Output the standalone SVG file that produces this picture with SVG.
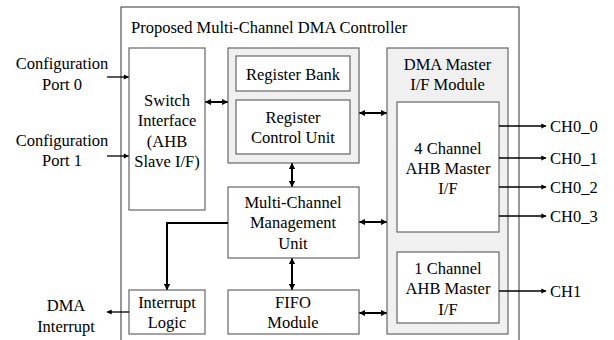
<svg xmlns="http://www.w3.org/2000/svg" width="614" height="340" viewBox="0 0 614 340">
  <defs>
    <marker id="ah" viewBox="0 0 10 10" refX="9" refY="5" markerWidth="3.2" markerHeight="3.2" orient="auto-start-reverse" markerUnits="strokeWidth">
      <path d="M0,0 L10,5 L0,10 z" fill="#000"/>
    </marker>
    <marker id="ahs" viewBox="0 0 10 10" refX="9" refY="5" markerWidth="4.5" markerHeight="4" orient="auto-start-reverse" markerUnits="strokeWidth">
      <path d="M0,0 L10,5 L0,10 z" fill="#000"/>
    </marker>
  </defs>

  <rect width="614" height="340" fill="#fff"/>

  <!-- controller frame -->
  <g id="controller">
    <rect x="121" y="7" width="398" height="340" fill="#fff" stroke="#333" stroke-width="1"/>
    <text x="131" y="32.5" font-family="Liberation Serif" font-size="16.5">Proposed Multi-Channel DMA Controller</text>
  </g>

  <!-- inner blocks: white boxes with grey outline -->
  <g id="switch-interface">
    <rect x="129" y="48" width="76" height="162" fill="#fff" stroke="#666" stroke-width="1.2"/>
    <text x="167" y="105.5" font-family="Liberation Serif" font-size="16.5" text-anchor="middle">Switch</text>
    <text x="167" y="126" font-family="Liberation Serif" font-size="16.5" text-anchor="middle">Interface</text>
    <text x="167" y="146.5" font-family="Liberation Serif" font-size="16.5" text-anchor="middle">(AHB</text>
    <text x="167" y="167" font-family="Liberation Serif" font-size="16.5" text-anchor="middle">Slave I/F)</text>
  </g>

  <g id="register-block">
    <rect x="228" y="48" width="131" height="115" fill="#f0f0f0" stroke="#666" stroke-width="1.2"/>
  </g>
  <g id="register-bank">
    <rect x="236" y="56" width="114" height="35" fill="#fff" stroke="#666" stroke-width="1.2"/>
    <text x="293" y="79.5" font-family="Liberation Serif" font-size="16.5" text-anchor="middle">Register Bank</text>
  </g>
  <g id="register-control">
    <rect x="236" y="100" width="114" height="54" fill="#fff" stroke="#666" stroke-width="1.2"/>
    <text x="293" y="122.5" font-family="Liberation Serif" font-size="16.5" text-anchor="middle">Register</text>
    <text x="293" y="143" font-family="Liberation Serif" font-size="16.5" text-anchor="middle">Control Unit</text>
  </g>

  <g id="management-unit">
    <rect x="228" y="187" width="131" height="71" fill="#fff" stroke="#666" stroke-width="1.2"/>
    <text x="293" y="207.5" font-family="Liberation Serif" font-size="16.5" text-anchor="middle">Multi-Channel</text>
    <text x="293" y="228" font-family="Liberation Serif" font-size="16.5" text-anchor="middle">Management</text>
    <text x="293" y="248.5" font-family="Liberation Serif" font-size="16.5" text-anchor="middle">Unit</text>
  </g>

  <g id="interrupt-logic">
    <rect x="129" y="290" width="76" height="44" fill="#fff" stroke="#666" stroke-width="1.2"/>
    <text x="167" y="307.5" font-family="Liberation Serif" font-size="16.5" text-anchor="middle">Interrupt</text>
    <text x="167" y="328" font-family="Liberation Serif" font-size="16.5" text-anchor="middle">Logic</text>
  </g>

  <g id="fifo">
    <rect x="228" y="290" width="131" height="44" fill="#fff" stroke="#666" stroke-width="1.2"/>
    <text x="293" y="307.5" font-family="Liberation Serif" font-size="16.5" text-anchor="middle">FIFO</text>
    <text x="293" y="328" font-family="Liberation Serif" font-size="16.5" text-anchor="middle">Module</text>
  </g>

  <g id="dma-master">
    <rect x="387" y="48" width="121" height="286" fill="#f0f0f0" stroke="#666" stroke-width="1.2"/>
    <text x="447.5" y="69.5" font-family="Liberation Serif" font-size="16.5" text-anchor="middle">DMA Master</text>
    <text x="447.5" y="89.5" font-family="Liberation Serif" font-size="16.5" text-anchor="middle">I/F Module</text>
  </g>
  <g id="master-4ch">
    <rect x="397" y="102" width="102" height="130" fill="#fff" stroke="#666" stroke-width="1.2"/>
    <text x="448" y="153.5" font-family="Liberation Serif" font-size="16.5" text-anchor="middle">4 Channel</text>
    <text x="448" y="173.5" font-family="Liberation Serif" font-size="16.5" text-anchor="middle">AHB Master</text>
    <text x="448" y="193.5" font-family="Liberation Serif" font-size="16.5" text-anchor="middle">I/F</text>
  </g>
  <g id="master-1ch">
    <rect x="397" y="252" width="102" height="71" fill="#fff" stroke="#666" stroke-width="1.2"/>
    <text x="448" y="273.5" font-family="Liberation Serif" font-size="16.5" text-anchor="middle">1 Channel</text>
    <text x="448" y="294" font-family="Liberation Serif" font-size="16.5" text-anchor="middle">AHB Master</text>
    <text x="448" y="314.5" font-family="Liberation Serif" font-size="16.5" text-anchor="middle">I/F</text>
  </g>

  <!-- external ports -->
  <g id="config-port-0">
    <text x="62" y="68.5" font-family="Liberation Serif" font-size="16.5" text-anchor="middle">Configuration</text>
    <text x="62" y="89.5" font-family="Liberation Serif" font-size="16.5" text-anchor="middle">Port 0</text>
  </g>
  <g id="config-port-1">
    <text x="62" y="145.5" font-family="Liberation Serif" font-size="16.5" text-anchor="middle">Configuration</text>
    <text x="62" y="166" font-family="Liberation Serif" font-size="16.5" text-anchor="middle">Port 1</text>
  </g>
  <g id="dma-interrupt">
    <text x="66" y="310.5" font-family="Liberation Serif" font-size="16.5" text-anchor="middle">DMA</text>
    <text x="66" y="331.5" font-family="Liberation Serif" font-size="16.5" text-anchor="middle">Interrupt</text>
  </g>
  <g id="channel-outputs">
    <text x="550" y="131.5" font-family="Liberation Serif" font-size="16.5">CH0_0</text>
    <text x="550" y="163.5" font-family="Liberation Serif" font-size="16.5">CH0_1</text>
    <text x="550" y="192.5" font-family="Liberation Serif" font-size="16.5">CH0_2</text>
    <text x="550" y="221.5" font-family="Liberation Serif" font-size="16.5">CH0_3</text>
    <text x="550" y="296.5" font-family="Liberation Serif" font-size="16.5">CH1</text>
  </g>

  <!-- connectors: thick buses between blocks, thin signal lines to the ports -->
  <g id="connectors" fill="none" stroke="#000">
    <g stroke-width="1.3">
      <line x1="107" y1="77" x2="128.5" y2="77" marker-end="url(#ahs)"/>
      <line x1="107" y1="156" x2="128.5" y2="156" marker-end="url(#ahs)"/>
      <line x1="129" y1="312" x2="107" y2="312" marker-end="url(#ahs)"/>
      <line x1="499" y1="126" x2="546" y2="126" marker-end="url(#ahs)"/>
      <line x1="499" y1="158" x2="546" y2="158" marker-end="url(#ahs)"/>
      <line x1="499" y1="187" x2="546" y2="187" marker-end="url(#ahs)"/>
      <line x1="499" y1="216" x2="546" y2="216" marker-end="url(#ahs)"/>
      <line x1="499" y1="291" x2="546" y2="291" marker-end="url(#ahs)"/>
    </g>
    <g stroke-width="2">
      <line x1="205.5" y1="102" x2="227.5" y2="102" marker-start="url(#ah)" marker-end="url(#ah)"/>
      <line x1="359.5" y1="113" x2="386.5" y2="113" marker-start="url(#ah)" marker-end="url(#ah)"/>
      <line x1="292" y1="163.5" x2="292" y2="186.5" marker-start="url(#ah)" marker-end="url(#ah)"/>
      <line x1="359.5" y1="222" x2="386.5" y2="222" marker-start="url(#ah)" marker-end="url(#ah)"/>
      <line x1="292" y1="258.5" x2="292" y2="289.5" marker-start="url(#ah)" marker-end="url(#ah)"/>
      <line x1="359.5" y1="313" x2="386.5" y2="313" marker-start="url(#ah)" marker-end="url(#ah)"/>
      <path d="M228,223 H167 V289.5" marker-end="url(#ah)"/>
    </g>
  </g>
</svg>
